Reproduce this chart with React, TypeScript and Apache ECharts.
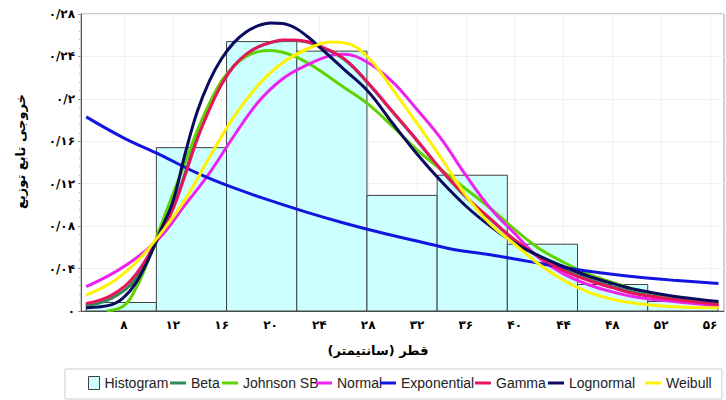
import React, { useEffect, useRef } from "react";
import * as echarts from "echarts";

// ---- data ----
const binEdges = [4.9, 10.65, 16.4, 22.15, 27.9, 33.65, 39.4, 45.15, 50.9, 56.65];
const binHeights = [0.008, 0.154, 0.254, 0.245, 0.109, 0.128, 0.063, 0.025, 0.009];

const xTickValues = [8, 12, 16, 20, 24, 28, 32, 36, 40, 44, 48, 52, 56];

const betaPts = [
  [4.9, 0.005], [7, 0.012], [9, 0.031], [11, 0.073], [12, 0.097], [13, 0.13], [14, 0.165],
  [15, 0.192], [16, 0.214], [17, 0.231], [18, 0.242], [19, 0.249], [20, 0.253], [21, 0.255],
  [22, 0.255], [23, 0.2535], [24, 0.2495], [26, 0.2375], [28, 0.2145], [30, 0.1875],
  [32, 0.1605], [34, 0.1325], [36, 0.1075], [38, 0.0865], [40, 0.067], [42, 0.051],
  [44, 0.039], [46, 0.03], [48, 0.023], [50, 0.017], [53, 0.011], [56.7, 0.006],
];
const johnsonPts = [
  [6.6, 0.0], [8, 0.005], [9, 0.022], [10, 0.048], [11, 0.08], [12, 0.11], [13, 0.14],
  [14, 0.17], [15, 0.196], [16, 0.217], [17, 0.231], [18, 0.24], [19, 0.2445], [20, 0.2455],
  [21, 0.244], [22, 0.24], [23, 0.234], [24, 0.227], [26, 0.211], [28, 0.195], [30, 0.174],
  [32, 0.152], [34, 0.133], [36, 0.115], [38, 0.097], [40, 0.077], [42, 0.059], [44, 0.046],
  [46, 0.035], [48, 0.027], [50, 0.02], [53, 0.013], [56.7, 0.007],
];
const normalPts = [
  [4.9, 0.023], [7, 0.035], [9, 0.05], [11, 0.07], [13, 0.1], [15, 0.13], [17, 0.165],
  [19, 0.197], [21, 0.219], [23, 0.232], [25, 0.241], [26, 0.242], [28, 0.234], [30, 0.216],
  [32, 0.19], [34, 0.162], [36, 0.128], [38, 0.097], [40, 0.073], [42, 0.05], [44, 0.035],
  [46, 0.025], [48, 0.018], [50, 0.013], [53, 0.009], [56.7, 0.005],
];
const exponentialPts = [
  [4.9, 0.183], [8, 0.163], [11, 0.147], [14, 0.13], [17, 0.116], [20, 0.104], [23, 0.093],
  [26, 0.083], [29, 0.074], [32, 0.066], [35, 0.058], [38, 0.053], [41, 0.047], [44, 0.041],
  [47, 0.036], [50, 0.032], [53, 0.029], [56.7, 0.026],
];
const gammaPts = [
  [4.9, 0.007], [7, 0.015], [9, 0.035], [11, 0.074], [12, 0.096], [13, 0.128], [14, 0.162],
  [15, 0.19], [16, 0.214], [17, 0.231], [18, 0.242], [19, 0.249], [20, 0.253], [21, 0.2555],
  [22, 0.2555], [23, 0.254], [24, 0.25], [26, 0.238], [28, 0.215], [30, 0.188], [32, 0.161],
  [34, 0.133], [36, 0.108], [38, 0.087], [40, 0.067], [42, 0.051], [44, 0.038], [46, 0.029],
  [48, 0.022], [50, 0.016], [53, 0.011], [56.7, 0.006],
];
const lognormalPts = [
  [4.9, 0.003], [7, 0.006], [8, 0.013], [9, 0.027], [10, 0.049], [11, 0.076], [12, 0.103],
  [13, 0.148], [14, 0.188], [15, 0.217], [16, 0.238], [17, 0.253], [18, 0.263], [19, 0.269],
  [20, 0.2715], [21, 0.271], [22, 0.267], [23, 0.259], [24, 0.249], [26, 0.228], [28, 0.207],
  [30, 0.177], [32, 0.148], [34, 0.122], [36, 0.099], [38, 0.08], [40, 0.064], [42, 0.052],
  [44, 0.042], [46, 0.033], [48, 0.026], [50, 0.02], [53, 0.014], [56.7, 0.009],
];
const weibullPts = [
  [4.9, 0.015], [7, 0.027], [9, 0.046], [11, 0.073], [13, 0.105], [15, 0.145], [17, 0.183],
  [19, 0.213], [21, 0.234], [23, 0.247], [25, 0.2535], [26, 0.253], [28, 0.239], [30, 0.209],
  [32, 0.177], [34, 0.144], [36, 0.109], [38, 0.082], [40, 0.063], [42, 0.044], [44, 0.029],
  [46, 0.018], [48, 0.011], [50, 0.007], [53, 0.004], [56.7, 0.003],
];

const curveNames = ["Beta", "Johnson SB", "Normal", "Exponential", "Gamma", "Lognormal", "Weibull"];
const curveColors = ["#2E8B57", "#5FD300", "#EE22EE", "#1414E0", "#E8145E", "#0A0A5E", "#FFF200"];
const curveData = [betaPts, johnsonPts, normalPts, exponentialPts, gammaPts, lognormalPts, weibullPts];
const legendLefts = [170, 222, 316, 380, 475, 548, 645];

const FA = "۰۱۲۳۴۵۶۷۸۹";
const toFa = (s: string) => s.replace(/[0-9]/g, (d) => FA[+d]);

export default function App() {
  const ref = useRef<HTMLDivElement>(null);

  useEffect(() => {
    if (!ref.current) return;
    const chart = echarts.init(ref.current, undefined, { renderer: "svg" });

    const histData = binHeights.map((h, i) => [binEdges[i], binEdges[i + 1], h]);
    const labelFont = { fontFamily: "DejaVu Sans", fontWeight: "bold" as const, fontSize: 12, color: "#000" };

    const legends: any[] = [
      {
        left: 88,
        top: 376,
        padding: 0,
        itemWidth: 11,
        itemHeight: 13,
        selectedMode: false,
        textStyle: { fontFamily: "Liberation Sans, Arial", fontSize: 14, color: "#222" },
        data: [
          {
            name: "Histogram",
            icon: "rect",
            itemStyle: { color: "#CCFFFF", borderColor: "#404040", borderWidth: 1 },
          },
        ],
      },
      ...curveNames.map((n, i) => ({
        left: legendLefts[i],
        top: 376,
        padding: 0,
        itemWidth: 16,
        itemHeight: 3,
        selectedMode: false,
        textStyle: { fontFamily: "Liberation Sans, Arial", fontSize: 14, color: "#222" },
        data: [{ name: n, icon: "rect", itemStyle: { color: curveColors[i] } }],
      })),
    ];

    chart.setOption({
      animation: false,
      backgroundColor: "#fff",
      grid: {
        left: 81,
        right: 2,
        top: 14,
        bottom: 89,
        show: true,
        borderColor: "#9a9a9a",
        borderWidth: 1,
      },
      legend: legends,
      graphic: [
        {
          type: "rect",
          shape: { x: 65, y: 369, width: 657, height: 30 },
          style: { fill: "none", stroke: "#cfcfcf", lineWidth: 1 },
          silent: true,
        },
      ],
      xAxis: {
        type: "value",
        min: 4.475,
        max: 57.15,
        name: "قطر (سانتیمتر)",
        nameLocation: "middle",
        nameGap: 33,
        nameTextStyle: {
          fontFamily: "DejaVu Sans",
          fontWeight: "bold",
          fontSize: 13,
          color: "#000",
          padding: [0, 49, 0, 0],
        },
        axisLine: { show: true, lineStyle: { color: "#555", width: 1 } },
        axisTick: { show: false, customValues: xTickValues },
        axisLabel: {
          ...labelFont,
          margin: 8,
          customValues: xTickValues,
          formatter: (v: number) => toFa(String(v)),
        },
        splitLine: { show: true, lineStyle: { color: "#f1f1f1", width: 1 } },
      },
      yAxis: {
        type: "value",
        min: 0,
        max: 0.28,
        interval: 0.04,
        name: "خروجی تابع توزیع",
        nameLocation: "middle",
        nameGap: 54,
        nameTextStyle: {
          fontFamily: "DejaVu Sans",
          fontWeight: "bold",
          fontSize: 13,
          color: "#000",
          padding: [0, 0, 0, 22],
        },
        axisLine: { show: true, lineStyle: { color: "#555", width: 1 } },
        axisTick: { show: true, length: 3, lineStyle: { color: "#999" } },
        minorTick: { show: true, splitNumber: 5, length: 2, lineStyle: { color: "#bbb" } },
        axisLabel: {
          ...labelFont,
          margin: 6,
          formatter: (v: number) => toFa(String(Math.round(v * 100) / 100).replace(".", "/")),
        },
        splitLine: { show: true, lineStyle: { color: "#f1f1f1", width: 1 } },
      },
      series: [
        {
          name: "Histogram",
          type: "custom",
          z: 1,
          itemStyle: { color: "#CCFFFF", borderColor: "#404040", borderWidth: 1 },
          encode: { x: [0, 1], y: 2 },
          data: histData,
          renderItem: (params: any, api: any) => {
            const p0 = api.coord([api.value(0), api.value(2)]);
            const p1 = api.coord([api.value(1), 0]);
            return {
              type: "rect",
              shape: { x: p0[0], y: p0[1], width: p1[0] - p0[0], height: p1[1] - p0[1] },
              style: { fill: "#CCFFFF", stroke: "#404040", lineWidth: 1 },
            };
          },
        },
        ...curveNames.map((n, i) => ({
          name: n,
          type: "line",
          z: 2,
          data: curveData[i],
          smooth: 0.4,
          showSymbol: false,
          symbol: "none",
          itemStyle: { color: curveColors[i] },
          lineStyle: { color: curveColors[i], width: 3 },
        })),
      ],
    });

    return () => chart.dispose();
  }, []);

  return <div ref={ref} style={{ width: 726, height: 400, position: "absolute", left: 0, top: 0 }} />;
}
